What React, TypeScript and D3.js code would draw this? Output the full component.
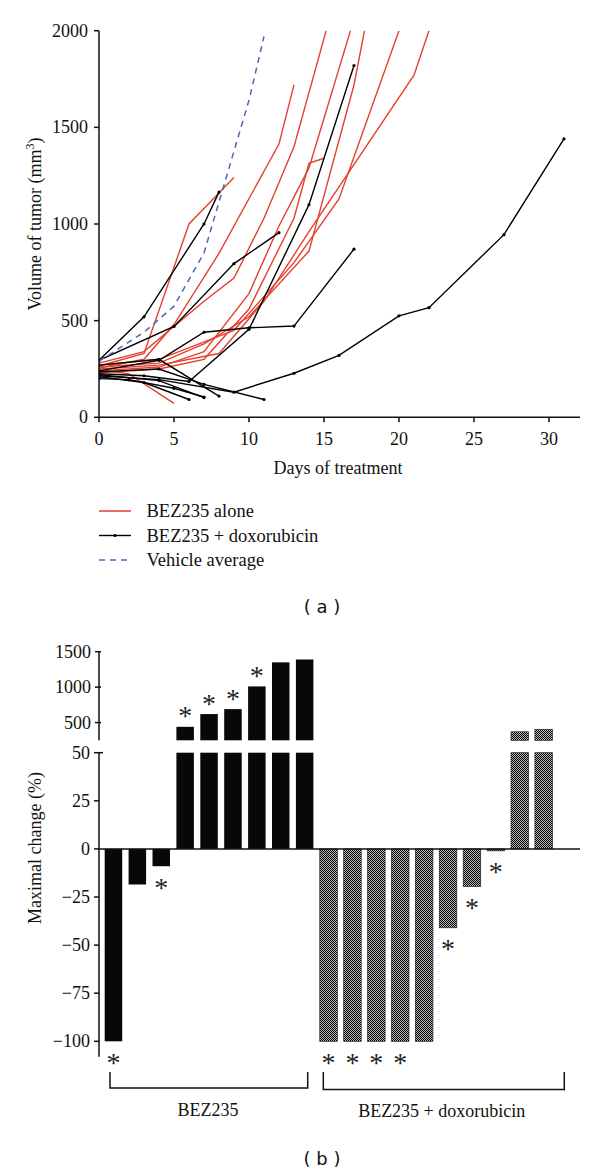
import React from "react";
import * as d3 from "d3";

// ---------- Panel (a) data: [day, volume mm3] ----------
const vehicleAverage: [number, number][] = [[0, 290], [3, 440], [5, 575], [7, 850], [10, 1640], [11, 1970]];

const bezAloneLines: [number, number][][] = [
  [[0, 245], [2, 225], [5, 72]],
  [[0, 265], [3, 330], [6, 1000], [9, 1240]],
  [[0, 255], [3, 300], [5, 480], [8, 848], [12, 1414], [13, 1720]],
  [[0, 280], [3, 340], [7, 600], [9, 720], [11, 1030], [13, 1400], [16, 2240]],
  [[0, 240], [4, 260], [7, 340], [10, 640], [12, 990], [14, 1290], [17, 2060]],
  [[0, 230], [4, 250], [7, 300], [10, 560], [13, 1030], [14, 1314], [15, 1340]],
  [[0, 260], [4, 280], [7, 380], [10, 520], [14, 860], [17, 1719], [18, 2120]],
  [[0, 270], [4, 300], [9, 450], [13, 800], [16, 1130], [20, 2000]],
  [[0, 250], [4, 270], [8, 330], [11, 600], [14, 960], [21, 1770], [22, 2000]],
];

const comboLines: [number, number][][] = [
  [[0, 215], [4, 195], [9, 130], [13, 228], [16, 320], [20, 525], [22, 567], [27, 945], [31, 1440]],
  [[0, 240], [4, 295], [7, 440], [10, 463], [13, 472], [17, 870]],
  [[0, 225], [3, 215], [6, 185], [10, 455], [14, 1100], [17, 1820]],
  [[0, 295], [5, 470], [9, 795], [12, 955]],
  [[0, 295], [3, 520], [7, 1000], [8, 1165]],
  [[0, 210], [3, 180], [6, 92]],
  [[0, 220], [4, 190], [7, 102]],
  [[0, 270], [4, 300], [8, 110]],
  [[0, 235], [4, 250], [7, 170], [11, 92]],
  [[0, 200], [2, 195], [5, 150], [7, 105]],
];

const xTicksA = [0, 5, 10, 15, 20, 25, 30];
const yTicksA = [0, 500, 1000, 1500, 2000];

const legendLabels = ["BEZ235 alone", "BEZ235 + doxorubicin", "Vehicle average"];

// ---------- Panel (b) data: maximal change (%) ----------
const bezValues = [-100, -18.5, -9, 440, 620, 690, 1010, 1350, 1390];
const bezSignificant = [true, false, true, true, true, true, true, false, false];
const comboValues = [-100, -100, -100, -100, -100, -41, -19.5, -1, 370, 405];
const comboSignificant = [true, true, true, true, false, true, true, true, false, false];
const upperTicksB = [500, 1000, 1500];
const lowerTicksB = [-100, -75, -50, -25, 0, 25, 50];
const groupLabels = ["BEZ235", "BEZ235 + doxorubicin"];

const RED = "#e5402f";
const BLUE = "#5065b3";
const SERIF = "'Liberation Serif', 'DejaVu Serif', serif";
const SANS = "'DejaVu Sans', sans-serif";

export default function App() {
  // panel (a) scales
  const x = d3.scaleLinear().domain([0, 32.07]).range([99, 580]);
  const y = d3.scaleLinear().domain([0, 2000]).range([417.3, 30.7]);
  const line = d3.line<[number, number]>().x((d) => x(d[0])).y((d) => y(d[1]));

  // panel (b) scales
  const nBars = bezValues.length + comboValues.length;
  const xb = d3
    .scaleBand<number>()
    .domain(d3.range(nBars))
    .range([101.5, 555.6])
    .paddingInner(0.268)
    .paddingOuter(0.134);
  const yUp = d3.scaleLinear().domain([250, 1500]).range([740.3, 651.7]);
  const yLow = d3.scaleLinear().domain([-108, 50]).range([1056.7, 752.7]);

  const bars = [
    ...bezValues.map((v, i) => ({ v, sig: bezSignificant[i], combo: false })),
    ...comboValues.map((v, i) => ({ v, sig: comboSignificant[i], combo: true })),
  ];

  const axisStroke = "#111";

  return (
    <svg width={600} height={1172} style={{ position: "absolute", left: 0, top: 0, background: "#fff" }}>
      <defs>
        <clipPath id="plotA">
          <rect x={99} y={30.7} width={485} height={400} />
        </clipPath>
        <pattern id="checker" width={2} height={2} patternUnits="userSpaceOnUse">
          <rect width={2} height={2} fill="#b8b8b8" />
          <rect width={1} height={1} fill="#000" />
          <rect x={1} y={1} width={1} height={1} fill="#000" />
        </pattern>
      </defs>

      {/* ---------------- Panel (a) ---------------- */}
      <g clipPath="url(#plotA)">
        {bezAloneLines.map((s, i) => (
          <path key={"r" + i} d={line(s) || ""} fill="none" stroke={RED} strokeWidth={1.4} />
        ))}
        {comboLines.map((s, i) => (
          <g key={"k" + i}>
            <path d={line(s) || ""} fill="none" stroke="#000" strokeWidth={1.4} />
            {s.map((p, j) => (
              <circle key={j} cx={x(p[0])} cy={y(p[1])} r={1.6} fill="#000" />
            ))}
          </g>
        ))}
        <path d={line(vehicleAverage) || ""} fill="none" stroke={BLUE} strokeWidth={1.5} strokeDasharray="6,5" />
      </g>

      {/* axes a */}
      <line x1={99} x2={99} y1={y(2000)} y2={y(0)} stroke={axisStroke} strokeWidth={1.5} />
      <line x1={99} x2={580} y1={y(0)} y2={y(0)} stroke={axisStroke} strokeWidth={1.5} />
      {yTicksA.map((t) => (
        <g key={"ya" + t}>
          <line x1={94} x2={99} y1={y(t)} y2={y(t)} stroke={axisStroke} strokeWidth={1.5} />
          <text x={88} y={y(t) + 6} textAnchor="end" fontFamily={SERIF} fontSize={18} fill="#111">
            {t}
          </text>
        </g>
      ))}
      {xTicksA.map((t) => (
        <g key={"xa" + t}>
          <line x1={x(t)} x2={x(t)} y1={y(0)} y2={y(0) + 5} stroke={axisStroke} strokeWidth={1.5} />
          <text x={x(t)} y={445} textAnchor="middle" fontFamily={SERIF} fontSize={18} fill="#111">
            {t}
          </text>
        </g>
      ))}
      <text x={338} y={474} textAnchor="middle" fontFamily={SERIF} fontSize={18} fill="#111">
        Days of treatment
      </text>
      <text
        transform={`translate(41, ${(y(0) + y(2000)) / 2}) rotate(-90)`}
        textAnchor="middle"
        fontFamily={SERIF}
        fontSize={18}
        fill="#111"
      >
        Volume of tumor (mm
        <tspan fontSize={12} dy={-7}>
          3
        </tspan>
        <tspan dy={7}>)</tspan>
      </text>

      {/* legend */}
      {legendLabels.map((lab, i) => {
        const ly = 511 + i * 24.5;
        return (
          <g key={lab}>
            {i === 0 && <line x1={99} x2={131} y1={ly} y2={ly} stroke={RED} strokeWidth={1.5} />}
            {i === 1 && (
              <g>
                <line x1={99} x2={131} y1={ly} y2={ly} stroke="#000" strokeWidth={1.4} />
                <circle cx={115} cy={ly} r={1.6} fill="#000" />
              </g>
            )}
            {i === 2 && (
              <line x1={99} x2={131} y1={ly} y2={ly} stroke={BLUE} strokeWidth={1.5} strokeDasharray="6,5" />
            )}
            <text x={146.5} y={ly + 6} fontFamily={SERIF} fontSize={18.5} fill="#111">
              {lab}
            </text>
          </g>
        );
      })}
      <text x={322} y={612.5} textAnchor="middle" fontFamily={SANS} fontSize={18} fill="#111">
        ( a )
      </text>

      {/* ---------------- Panel (b) ---------------- */}
      {bars.map((b, i) => {
        const bx = xb(i) as number;
        const bw = xb.bandwidth();
        const fill = b.combo ? "url(#checker)" : "#080808";
        const stroke = b.combo ? "#222" : "none";
        const parts: JSX.Element[] = [];
        if (b.v < 0) {
          parts.push(
            <rect key="n" x={bx} y={yLow(0)} width={bw} height={Math.max(yLow(b.v) - yLow(0), 1.5)} fill={fill} stroke={stroke} strokeWidth={0.7} />
          );
        } else {
          const lowTop = yLow(Math.min(b.v, 50));
          parts.push(
            <rect key="l" x={bx} y={lowTop} width={bw} height={yLow(0) - lowTop} fill={fill} stroke={stroke} strokeWidth={0.7} />
          );
          if (b.v > 250) {
            parts.push(
              <rect key="u" x={bx} y={yUp(b.v)} width={bw} height={yUp(250) - yUp(b.v)} fill={fill} stroke={stroke} strokeWidth={0.7} />
            );
          }
        }
        if (b.sig) {
          const cy = b.v < 0 ? yLow(b.v) + 16.5 : yUp(b.v) - 15.5;
          parts.push(
            <text key="s" x={bx + bw / 2} y={cy + 14} textAnchor="middle" fontFamily={SERIF} fontSize={28} fill="#222">
              *
            </text>
          );
        }
        return <g key={"b" + i}>{parts}</g>;
      })}

      {/* axes b */}
      <line x1={99} x2={99} y1={yUp(1500)} y2={yUp(250)} stroke={axisStroke} strokeWidth={1.5} />
      <line x1={99} x2={99} y1={yLow(50)} y2={yLow(-108)} stroke={axisStroke} strokeWidth={1.5} />
      <line x1={99} x2={580} y1={yLow(0)} y2={yLow(0)} stroke={axisStroke} strokeWidth={1.5} />
      {upperTicksB.map((t) => (
        <g key={"ub" + t}>
          <line x1={95} x2={101} y1={yUp(t)} y2={yUp(t)} stroke={axisStroke} strokeWidth={1.5} />
          <text x={91} y={yUp(t) + 6} textAnchor="end" fontFamily={SERIF} fontSize={18} fill="#111">
            {t}
          </text>
        </g>
      ))}
      {lowerTicksB.map((t) => (
        <g key={"lb" + t}>
          <line x1={94} x2={t === 50 ? 103 : 99} y1={yLow(t)} y2={yLow(t)} stroke={axisStroke} strokeWidth={1.5} />
          <text x={90} y={yLow(t) + 6} textAnchor="end" fontFamily={SERIF} fontSize={18} fill="#111">
            {t < 0 ? "\u2212" + Math.abs(t) : t}
          </text>
        </g>
      ))}
      <text transform={`translate(41, 848) rotate(-90)`} textAnchor="middle" fontFamily={SERIF} fontSize={18} fill="#111">
        Maximal change (%)
      </text>

      {/* group brackets */}
      <path d="M110,1072 V1088 H307.7 V1072" fill="none" stroke="#111" strokeWidth={1.5} />
      <path d="M323.3,1072 V1089.5 H564.3 V1072" fill="none" stroke="#111" strokeWidth={1.5} />
      <text x={208} y={1116} textAnchor="middle" fontFamily={SERIF} fontSize={18} fill="#111">
        {groupLabels[0]}
      </text>
      <text x={441.7} y={1117} textAnchor="middle" fontFamily={SERIF} fontSize={18} fill="#111">
        {groupLabels[1]}
      </text>
      <text x={322} y={1164.5} textAnchor="middle" fontFamily={SANS} fontSize={18} fill="#111">
        ( b )
      </text>
    </svg>
  );
}
